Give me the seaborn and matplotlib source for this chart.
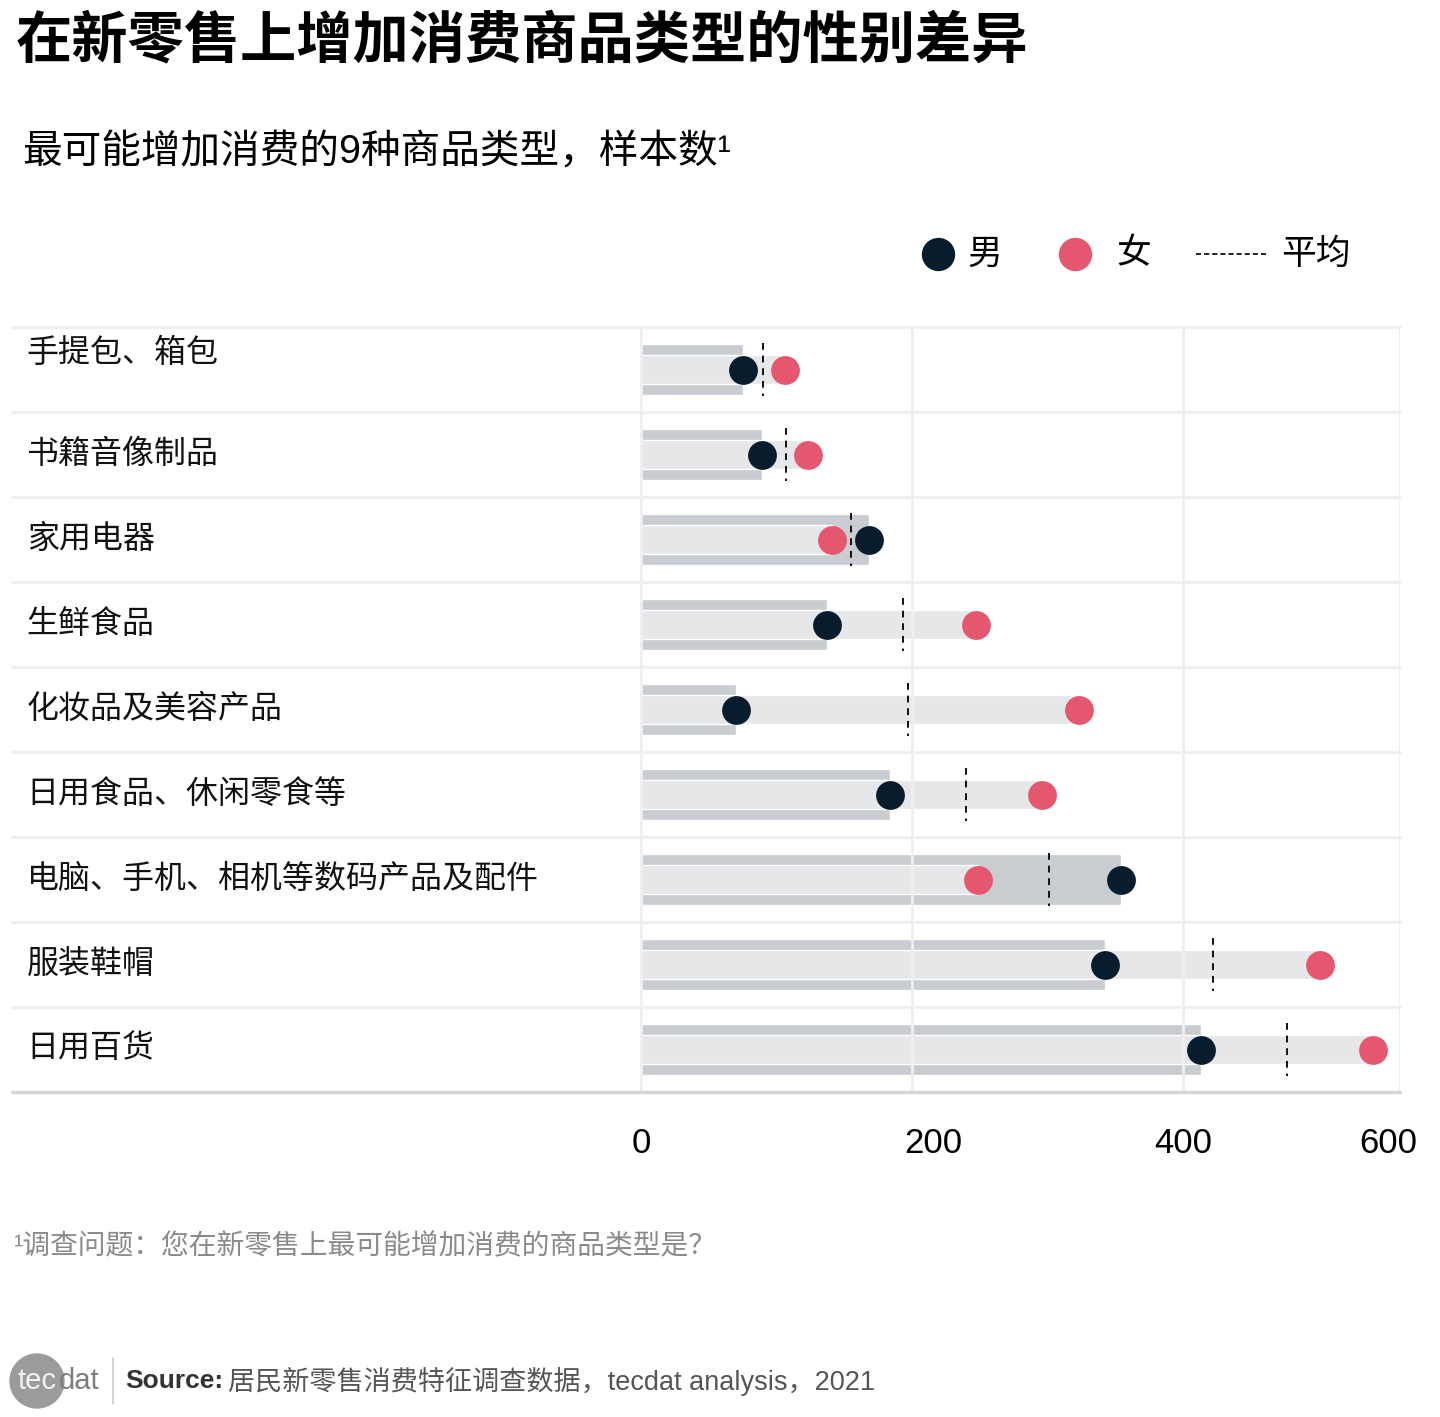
import pandas as pd
import matplotlib
matplotlib.use("Agg")
import matplotlib.pyplot as plt
from matplotlib.lines import Line2D
import matplotlib.transforms as mtransforms
import seaborn as sns

categories = ["手提包、箱包", "书籍音像制品", "家用电器", "生鲜食品", "化妆品及美容产品",
              "日用食品、休闲零食等", "电脑、手机、相机等数码产品及配件", "服装鞋帽", "日用百货"]
male = [75, 89, 168, 137, 70, 184, 354, 342, 413]
female = [106, 123, 141, 247, 323, 296, 249, 501, 540]
average = [90, 107, 155, 193, 197, 240, 301, 422, 477]
tick_values = [0, 200, 400, 560]
tick_labels = ["0", "200", "400", "600"]

MALE_C = "#071d2e"
FEMALE_C = "#e5566f"
DARK_BAR = "#c9ccd1"
LIGHT_BAR = "#e6e7e9"

sns.set_theme(style="white")
plt.rcParams["font.family"] = ["Liberation Sans", "Noto Sans CJK SC", "DejaVu Sans"]

df = pd.DataFrame({"cat": categories, "male": male, "female": female, "avg": average})

W, H = 1440, 1417
fig = plt.figure(figsize=(W / 100, H / 100), dpi=100)
ax = fig.add_axes([12 / W, 1 - 1092 / H, 1388 / W, 765 / H])

sns.barplot(data=df, x="male", y="cat", orient="h", color=DARK_BAR, saturation=1,
            width=0.59, zorder=1, ax=ax)
sns.barplot(data=df, x="female", y="cat", orient="h", color=LIGHT_BAR, saturation=1,
            width=0.33, zorder=1.1, ax=ax)

for t in tick_values:
    ax.axvline(t, color="#efefef", lw=2, zorder=1.5)

n = len(categories)
for i in range(n + 1):
    ax.axhline(i - 0.5, color="#d6d6d6" if i == n else "#efefef",
               lw=2.5 if i == n else 2.2, zorder=1.6, clip_on=False)

for i, a in enumerate(average):
    ax.plot([a, a], [i - 0.31, i + 0.31], color="#111111", lw=1.4,
            ls=(0, (3.5, 3)), zorder=2.5)

sns.scatterplot(data=df, x="male", y="cat", color=MALE_C, s=430, linewidth=0,
                zorder=3, ax=ax, legend=False)
sns.scatterplot(data=df, x="female", y="cat", color=FEMALE_C, s=430, linewidth=0,
                zorder=3, ax=ax, legend=False)

ax.set_xlim(-464, 560)
ax.set_ylim(n - 0.5, -0.5)
ax.set_xticks(tick_values)
ax.set_xticklabels(tick_labels)
ax.set_yticks([])
ax.set_xlabel("")
ax.set_ylabel("")
ax.tick_params(axis="x", length=0, pad=25, labelsize=25, labelcolor="black")
for s in ax.spines.values():
    s.set_visible(False)
# small nudges of tick labels as in the original layout
for lab, dx in zip(ax.get_xticklabels(), [0, 21, 0, -12]):
    lab.set_transform(lab.get_transform() + mtransforms.ScaledTranslation(dx / 100, 0, fig.dpi_scale_trans))

for i, c in enumerate(categories):
    ax.text(0.0105, i - (0.18 if i == 0 else 0), c, transform=ax.get_yaxis_transform(),
            va="center", ha="left", fontsize=23, color="#111111")

fig.text(16 / W, 1 - 43 / H, "在新零售上增加消费商品类型的性别差异",
         fontsize=40.5, fontweight="bold", va="center", ha="left", color="black")
fig.text(22 / W, 1 - 152 / H, "最可能增加消费的9种商品类型，样本数¹",
         fontsize=28.5, va="center", ha="left", color="black")

# legend
ly = 1 - 254 / H
fig.add_artist(Line2D([938 / W], [ly], marker="o", ms=24, color=MALE_C, mew=0, ls=""))
fig.text(968 / W, ly, "男", fontsize=25, va="center", ha="left", color="black")
fig.add_artist(Line2D([1075 / W], [ly], marker="o", ms=24, color=FEMALE_C, mew=0, ls=""))
fig.text(1116 / W, ly, "女", fontsize=25, va="center", ha="left", color="black")
fig.add_artist(Line2D([1196 / W, 1266 / W], [ly, ly], ls=(0, (2.8, 1.7)), lw=1.3,
                      color="#111111"))
fig.text(1281 / W, ly, "平均", fontsize=25, va="center", ha="left", color="black")

fig.text(14 / W, 1 - 1247 / H, "¹调查问题：您在新零售上最可能增加消费的商品类型是？",
         fontsize=20, color="#8a8a8a", va="center", ha="left")

fig.text(37 / W, 1 - 1381 / H, "tec", fontsize=21, color="#f2f2f2", ha="center",
         va="center", bbox=dict(boxstyle="circle,pad=0.28", fc="#9b9b9b", ec="none"))
fig.text(59 / W, 1 - 1381 / H, "dat", fontsize=21, color="#7d7d7d", ha="left",
         va="center")
fig.add_artist(Line2D([113 / W, 113 / W], [1 - 1358 / H, 1 - 1404 / H],
                      color="#cccccc", lw=1.2))
fig.text(125 / W, 1 - 1381 / H, "Source:", fontsize=19, fontweight="bold",
         color="#333333", va="center", ha="left")
fig.text(228 / W, 1 - 1381 / H, "居民新零售消费特征调查数据，tecdat analysis，2021",
         fontsize=19.5, color="#555555", va="center", ha="left")

fig.savefig("out.png", dpi=100)
